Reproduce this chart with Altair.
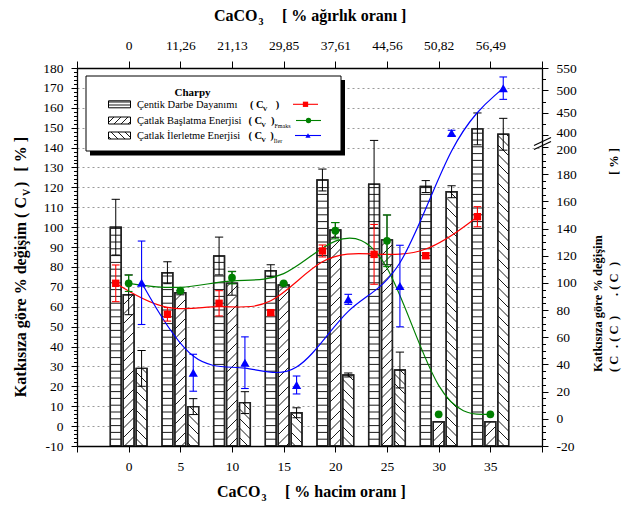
import altair as alt
import pandas as pd
import numpy as np

# ---------------- data ----------------
VOL = [0, 5, 10, 15, 20, 25, 30, 35]                      # % hacim oranı
WT_LABELS = ["0", "11,26", "21,13", "29,85", "37,61", "44,56", "50,82", "56,49"]  # % ağırlık oranı

# bars (left axis)
CV_BAR = [100.0, 77.1, 85.5, 78.1, 123.7, 121.6, 120.4, 149.4]
CV_BAR_ERR = [14.0, 5.5, 9.5, 3.0, 5.5, 22.0, 3.0, 8.0]
FM_BAR = [66.0, 67.0, 71.8, 70.9, 98.6, 93.6, 2.2, 2.2]
FM_BAR_ERR = [10.0, 1.0, 6.0, 1.0, 3.7, 12.5, 0.0, 0.0]
IL_BAR = [29.0, 9.8, 11.8, 6.7, 25.7, 28.2, 117.8, 146.7]
IL_BAR_ERR = [9.0, 4.0, 5.5, 2.5, 1.0, 9.0, 3.0, 8.0]

# points (right axis)
CV_PT = [99.7, 76.9, 85.0, 78.1, 123.5, 121.0, 120.0, 148.7]
CV_PT_ERR = [13.5, 5.0, 9.3, 2.0, 4.4, 22.0, 2.0, 7.4]
FM_PT = [99.7, 94.3, 103.8, 99.7, 138.4, 131.0, 3.3, 3.3]
FM_PT_ERR = [6.0, 0.0, 4.5, 0.0, 6.0, 19.0, 0.0, 0.0]
IL_PT = [100.1, 33.9, 41.3, 24.9, 87.9, 97.7, 405.0, 505.0]
IL_PT_ERR = [30.7, 13.6, 19.0, 6.6, 3.7, 30.0, 6.0, 25.0]

# ---------------- layout ----------------
FONT = "Liberation Serif, Times New Roman, serif"
W, H = 465, 378
PAD_L, PAD_T = 77, 68
XD = [-5, 40]
YLD = [-10, 180]
OFF = [-1.25, 0.0, 1.25]
BW = 1.05
# broken right axis: -20..200 on the lower part, 400..550 on top
R_LOW_PX = 299.0
R_GAP_PX = 11.8
RS = R_LOW_PX / 220.0
D400 = 200.0 + R_GAP_PX / RS
RTOP = -20.0 + H / RS
K = (RTOP - D400) / 150.0

XPX = W / (XD[1] - XD[0])
YPX = H / (YLD[1] - YLD[0])

XS = alt.Scale(domain=XD, nice=False, zero=False)
YLS = alt.Scale(domain=YLD, nice=False, zero=False)
YRS = alt.Scale(domain=[-20, RTOP], nice=False, zero=False)


def disp_py(v):
    return v if v <= 300 else D400 + (v - 400) * K


def disp(e):
    return f"(({e}) <= 300 ? ({e}) : {D400} + (({e}) - 400) * {K})"


# ---------------- hatching ----------------
def hatch_segments(kind, x0, x1, y0, y1, sp):
    segs = []
    if kind == "h":
        k = np.ceil((y0 + 0.8) / sp)
        while k * sp < y1 - 0.8:
            yy = k * sp
            segs.append((x0, yy, x1, yy))
            k += 1
    elif kind == "f":  # y = x + c
        c = np.floor((y0 - x1) / sp) * sp
        while c <= y1 - x0:
            xa = max(x0, y0 - c)
            xb = min(x1, y1 - c)
            if xb - xa > 0.6:
                segs.append((xa, xa + c, xb, xb + c))
            c += sp
    else:  # y = -x + c
        c = np.floor((x0 + y0) / sp) * sp
        while c <= x1 + y1:
            xa = max(x0, c - y1)
            xb = min(x1, c - y0)
            if xb - xa > 0.6:
                segs.append((xa, c - xa, xb, c - xb))
            c += sp
    return segs


KINDS = ["h", "f", "b"]
SPACING = {"h": 6.8, "f": 9.5, "b": 9.5}

rows = []
for si, (vals, errs) in enumerate([(CV_BAR, CV_BAR_ERR), (FM_BAR, FM_BAR_ERR), (IL_BAR, IL_BAR_ERR)]):
    for v, val, e in zip(VOL, vals, errs):
        rows.append({"s": si, "xc": v + OFF[si], "val": val, "err": e})
bars = pd.DataFrame(rows)

hrows = []
for _, r in bars.iterrows():
    kind = KINDS[int(r["s"])]
    x0 = (r["xc"] - BW / 2 - XD[0]) * XPX
    x1 = (r["xc"] + BW / 2 - XD[0]) * XPX
    y1 = (r["val"] - YLD[0]) * YPX
    for (a, b, c, d) in hatch_segments(kind, x0, x1, 0.0, y1, SPACING[kind]):
        hrows.append({"x": XD[0] + a / XPX, "y": YLD[0] + b / YPX,
                      "x2": XD[0] + c / XPX, "y2": YLD[0] + d / YPX})
hatch = pd.DataFrame(hrows)

prow = []
for si, (vals, errs) in enumerate([(CV_PT, CV_PT_ERR), (FM_PT, FM_PT_ERR), (IL_PT, IL_PT_ERR)]):
    for v, val, e in zip(VOL, vals, errs):
        prow.append({"s": si, "xc": v + OFF[si], "val": val, "err": e})
pts = pd.DataFrame(prow)

COLORS = ["#ff0000", "#008000", "#0000ff"]
SHAPES = ["square", "circle", "triangle-up"]
SIZES = [55, 60, 85]

layers = []

# bars
bar_base = alt.Chart(bars).transform_calculate(
    xa=f"datum.xc - {BW / 2}", xb=f"datum.xc + {BW / 2}", base=str(YLD[0]))
bar_enc = dict(x=alt.X("xa:Q", scale=XS, axis=None), x2="xb:Q",
               y=alt.Y("val:Q", scale=YLS, axis=None), y2="base:Q")
layers.append(bar_base.mark_rect(fill="white", stroke="#222", strokeWidth=1.4).encode(**bar_enc))
layers.append(alt.Chart(hatch).mark_rule(color="black", strokeWidth=0.9).encode(
    x=alt.X("x:Q", scale=XS, axis=None), x2="x2:Q",
    y=alt.Y("y:Q", scale=YLS, axis=None), y2="y2:Q"))
layers.append(bar_base.mark_rect(fill=None, stroke="#222", strokeWidth=1.4).encode(**bar_enc))


def err_layers(df, scale, color, cap, use_disp, width=1.0):
    f = disp if use_disp else (lambda e: f"({e})")
    base = alt.Chart(df).transform_filter("datum.err > 0").transform_calculate(
        lo=f("datum.val - datum.err"), hi=f("datum.val + datum.err"),
        ca=f"datum.xc - {cap}", cb=f"datum.xc + {cap}")
    out = [base.mark_rule(color=color, strokeWidth=width).encode(
        x=alt.X("xc:Q", scale=XS, axis=None),
        y=alt.Y("lo:Q", scale=scale, axis=None), y2="hi:Q")]
    for fld in ["lo", "hi"]:
        out.append(base.mark_rule(color=color, strokeWidth=width).encode(
            x=alt.X("ca:Q", scale=XS, axis=None), x2="cb:Q",
            y=alt.Y(f"{fld}:Q", scale=scale, axis=None)))
    return out


layers += err_layers(bars, YLS, "black", 0.4, False)

# curves (B-spline through the points, like the original)
for si in range(3):
    d = pts[pts["s"] == si]
    layers.append(alt.Chart(d).transform_calculate(yd=disp("datum.val")).mark_line(
        interpolate="basis", color=COLORS[si], strokeWidth=1.2).encode(
        x=alt.X("xc:Q", scale=XS, axis=None),
        y=alt.Y("yd:Q", scale=YRS, axis=None), order="xc:Q"))

for si in range(3):
    d = pts[pts["s"] == si]
    layers += err_layers(d, YRS, COLORS[si], 0.37, True, 1.1)

for si in range(3):
    d = pts[pts["s"] == si]
    layers.append(alt.Chart(d).transform_calculate(yd=disp("datum.val")).mark_point(
        shape=SHAPES[si], filled=True, size=SIZES[si], color=COLORS[si], opacity=1).encode(
        x=alt.X("xc:Q", scale=XS, axis=None),
        y=alt.Y("yd:Q", scale=YRS, axis=None)))

# ---------------- decorations in pixel space ----------------
def px_rect(x0, y0, x1, y1, **mk):
    df = pd.DataFrame({"x": [x0 - PAD_L], "x2": [x1 - PAD_L], "y": [y0 - PAD_T], "y2": [y1 - PAD_T]})
    return alt.Chart(df).mark_rect(**mk).encode(
        x=alt.X("x:Q", scale=None), x2="x2:Q", y=alt.Y("y:Q", scale=None), y2="y2:Q")


def px_rules(segs, color, width):
    df = pd.DataFrame([{"x": a - PAD_L, "y": b - PAD_T, "x2": c - PAD_L, "y2": d - PAD_T}
                       for (a, b, c, d) in segs])
    return alt.Chart(df).mark_rule(color=color, strokeWidth=width).encode(
        x=alt.X("x:Q", scale=None), x2="x2:Q", y=alt.Y("y:Q", scale=None), y2="y2:Q")


def txt(s, x, y, size, bold=False, angle=0, align="left", color="black"):
    return alt.Chart(pd.DataFrame({"t": [s]})).mark_text(
        align=align, baseline="alphabetic", fontSize=size, font=FONT,
        fontWeight="bold" if bold else "normal", angle=angle, color=color).encode(
        x=alt.value(x - PAD_L), y=alt.value(y - PAD_T), text="t:N")


def px_point(x, y, shape, size, color):
    df = pd.DataFrame({"x": [x - PAD_L], "y": [y - PAD_T]})
    return alt.Chart(df).mark_point(shape=shape, size=size, filled=True, color=color, opacity=1).encode(
        x=alt.X("x:Q", scale=None), y=alt.Y("y:Q", scale=None))


# legend
layers.append(px_rect(90, 80, 345, 155.5, color="black"))
layers.append(px_rect(86, 76, 341, 151, fill="white", stroke="black", strokeWidth=1))
layers.append(txt("Charpy", 192.5, 95.5, 11, bold=True, align="center"))
ROWS_Y = [104.3, 120.5, 135.5]
NAMES = ["Çentik Darbe Dayanımı", "Çatlak Başlatma Enerjisi", "Çatlak İlerletme Enerjisi"]
PAREN_X = [250, 248.5, 248.5]
CLOSE_X = [275.7, 271, 270.3]
SUBS = ["", "Fmaks", "İler"]
LINE_X = [(293, 318), (296, 321), (295, 321)]
LEG_KIND = ["h", "b", "f"]  # y axis points down here, so / and \ swap
for i, yc in enumerate(ROWS_Y):
    sx0, sx1, sy0, sy1 = 108.5, 130.5, yc - 3.5, yc + 3.5
    layers.append(px_rect(sx0, sy0, sx1, sy1, fill="white", stroke="black", strokeWidth=1))
    sp = 3.0 if LEG_KIND[i] == "h" else 7.0
    segs = hatch_segments(LEG_KIND[i], sx0, sx1, sy0, sy1, sp)
    if segs:
        layers.append(px_rules(segs, "black", 0.9))
    layers.append(txt(NAMES[i], 137, yc + 3.5, 10.5))
    layers.append(txt("(  C", PAREN_X[i], yc + 3.8, 10.5, bold=True))
    layers.append(txt("V", PAREN_X[i] + 12.7, yc + 6.3, 6.5, bold=True))
    layers.append(txt(")", CLOSE_X[i], yc + 3.8, 10.5, bold=True))
    if SUBS[i]:
        layers.append(txt(SUBS[i], CLOSE_X[i] + 3.5, yc + 7.5, 6.0))
    lx0, lx1 = LINE_X[i]
    layers.append(px_rules([(lx0, yc, lx1, yc)], COLORS[i], 1.1))
    layers.append(px_point((lx0 + lx1) / 2, yc, SHAPES[i], 28, COLORS[i]))

# axis break on the right axis
layers.append(px_rules([(534, 147.5, 551, 139.5)], "white", 3.5))
layers.append(px_rules([(534, 149.5, 551, 141.5), (534, 145.5, 551, 137.5)], "black", 1.1))

# titles
layers.append(txt("CaCO", 217, 497, 16, bold=True))
layers.append(txt("3", 261.5, 501, 10, bold=True))
layers.append(txt("[ % hacim oranı ]", 285, 497, 16, bold=True))
layers.append(txt("CaCO", 214, 20.5, 16, bold=True))
layers.append(txt("3", 258.5, 24.5, 10, bold=True))
layers.append(txt("[ % ağırlık oranı ]", 282, 20.5, 16, bold=True))

layers.append(txt("Katkısıza göre % değişim ( C", 25.5, 197, 16, bold=True, angle=270, align="right"))
layers.append(txt("V", 30, 196, 10, bold=True, angle=270))
layers.append(txt(")", 25.5, 187, 16, bold=True, angle=270))
layers.append(txt("[ % ]", 25.5, 137, 16, bold=True, angle=270, align="right"))

# right title (second line's subscripts fall outside the picture, as in the original)
layers.append(txt("Katkısıza göre % değişim", 601.5, 372, 12.5, bold=True, angle=270))
R2_PIECES = [("( C", 372), (". ( C", 348), (")", 320), (". ( C", 296), (")", 266)]
for s, ys in R2_PIECES:
    layers.append(txt(s, 617.5, ys, 12.5, bold=True, angle=270))
layers.append(txt("[ % ]", 617.5, 148, 12.5, bold=True, angle=270, align="right"))

# ---------------- axes ----------------
dummy = pd.DataFrame({"v": [0.0]})
AX = dict(title=None, labelFont=FONT, labelFontSize=13.5, labelColor="black",
          tickColor="black", domainColor="black", domainWidth=1.3, tickWidth=1,
          labelOverlap=False, labelFlush=False, labelBound=False)


def axis_y(scale, **kw):
    a = dict(AX)
    a.update(kw)
    return alt.Chart(dummy).mark_point(opacity=0).encode(
        y=alt.Y("v:Q", scale=scale, axis=alt.Axis(**a)))


def axis_x(**kw):
    a = dict(AX)
    a.update(kw)
    return alt.Chart(dummy).mark_point(opacity=0).encode(
        x=alt.X("v:Q", scale=XS, axis=alt.Axis(**a)))


layers.insert(0, axis_y(YLS, orient="left", values=list(range(0, 171, 10)), grid=True,
                        gridDash=[2, 3], gridColor="#9a9a9a", gridWidth=1, ticks=False,
                        labels=False, domain=False, zindex=0))
layers.append(axis_y(YLS, orient="left", values=list(range(-10, 181, 10)), tickSize=6,
                     labelPadding=8, labelExpr="'' + datum.value", grid=False, zindex=2))
layers.append(axis_y(YLS, orient="left", values=[v for v in range(-10, 181, 2) if v % 10],
                     tickSize=3.5, labels=False, domain=False, grid=False, zindex=2))

R_EXPR = f"datum.value > 204 ? '' + round(400 + (datum.value - {D400}) / {K}) : '' + round(datum.value)"
R_MAJOR = list(range(-20, 181, 20)) + [450, 500, 550]
R_MINOR = [v for v in range(-20, 201, 5) if v % 20] + [425, 475, 525]
layers.append(axis_y(YRS, orient="right", values=[disp_py(v) for v in R_MAJOR], tickSize=6,
                     labelPadding=8, grid=False, zindex=2, labelExpr=R_EXPR))
layers.append(axis_y(YRS, orient="right", values=[disp_py(200)], tickSize=6, labelOffset=2.5,
                     labelPadding=8, grid=False, domain=False, zindex=2, labelExpr=R_EXPR))
layers.append(axis_y(YRS, orient="right", values=[disp_py(400)], tickSize=6, labelOffset=-2.5,
                     labelPadding=8, grid=False, domain=False, zindex=2, labelExpr=R_EXPR))
layers.append(axis_y(YRS, orient="right", values=[disp_py(v) for v in R_MINOR], tickSize=3.5,
                     labels=False, domain=False, grid=False, zindex=2))

X_TICKS = list(range(-5, 41, 5))
layers.append(axis_x(orient="bottom", values=X_TICKS, tickSize=6, labelPadding=7, grid=False, zindex=2,
                     labelExpr="datum.value < 0 || datum.value > 35 ? '' : '' + datum.value"))
arr = "[" + ",".join(f"'{s}'" for s in WT_LABELS) + "]"
layers.append(axis_x(orient="top", values=X_TICKS, tickSize=7, labelPadding=9, grid=False, zindex=2,
                     labelExpr=f"datum.value < 0 || datum.value > 35 ? '' : {arr}[round(datum.value / 5)]"))

chart = alt.layer(*layers).properties(
    width=W, height=H,
    padding={"left": PAD_L, "top": PAD_T, "right": 625 - PAD_L - W, "bottom": 505 - PAD_T - H},
    autosize=alt.AutoSizeParams(type="none"),
).resolve_scale(x="independent", y="independent").resolve_axis(
    x="independent", y="independent"
).configure_view(stroke="black", strokeWidth=1.3).configure(background="white")

chart.save("out.html", embed_options={"renderer": "svg", "actions": False})
